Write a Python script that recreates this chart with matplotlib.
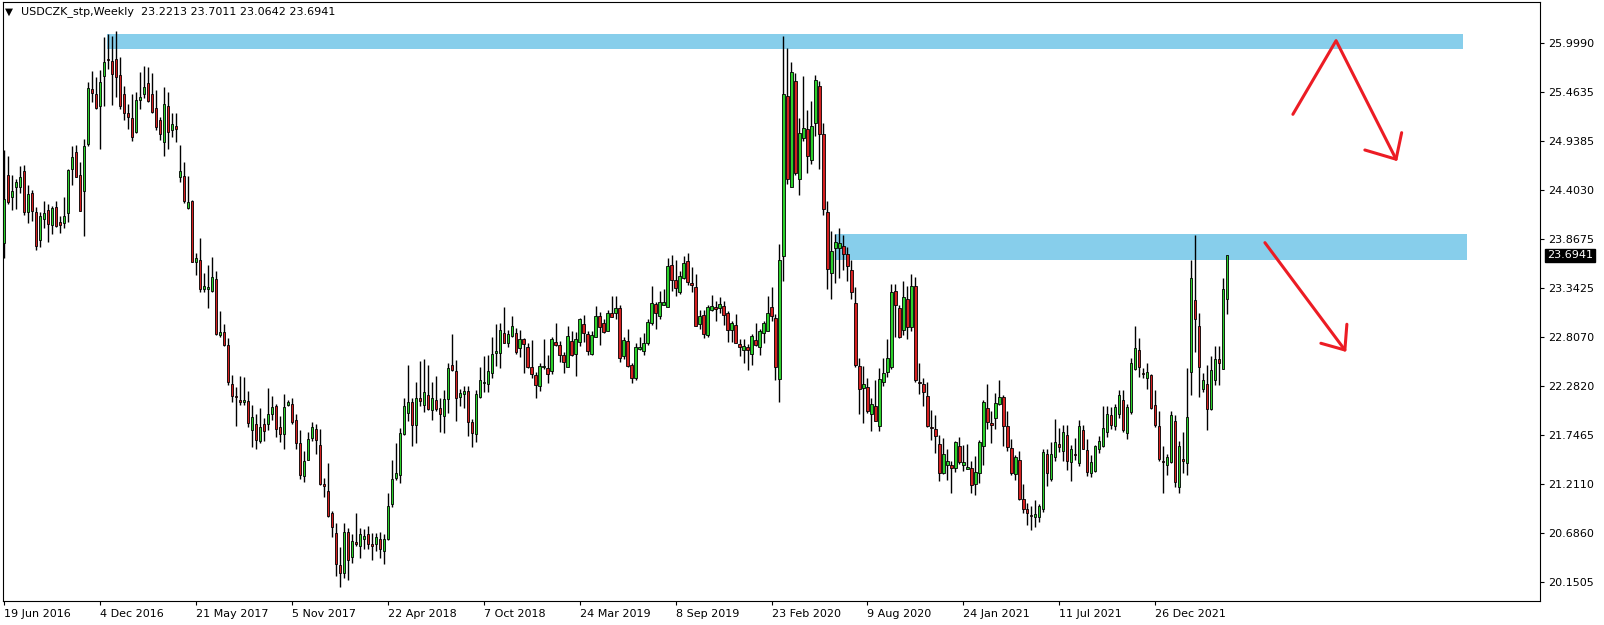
import numpy as np
import matplotlib
matplotlib.use("Agg")
import matplotlib.pyplot as plt
import matplotlib.transforms as mtransforms

# weekly candles, 19 Jun 2016 .. 1 May 2022
opens = [
	23.83, 24.57, 24.33, 24.44, 24.44, 24.61, 24.17, 24.37, 24.17, 23.86,
	24.09, 24.19, 24.03, 24.22, 24.06, 24.05, 24.16, 24.63, 24.82, 24.57,
	24.39, 24.90, 25.50, 25.45, 25.31, 25.64, 25.83, 25.80, 25.83, 25.65,
	25.45, 25.24, 25.18, 25.03, 25.38, 25.45, 25.56, 25.45, 25.29, 25.16,
	24.92, 25.32, 25.06, 25.10, 24.54, 24.56, 24.21, 24.28, 23.62, 23.65,
	23.33, 23.33, 23.31, 23.44, 22.83, 22.86, 22.72, 22.30, 22.17, 22.13,
	22.11, 22.12, 21.80, 21.87, 21.68, 21.87, 21.87, 21.98, 22.06, 21.83,
	21.76, 22.07, 22.08, 21.91, 21.66, 21.30, 21.48, 21.72, 21.81, 21.64,
	21.22, 21.14, 20.90, 20.68, 20.34, 20.25, 20.70, 20.42, 20.59, 20.54,
	20.62, 20.67, 20.57, 20.57, 20.62, 20.49, 20.62, 21.00, 21.28, 21.31,
	21.76, 21.99, 22.10, 21.86, 22.15, 22.07, 22.18, 22.02, 22.13, 22.04,
	21.95, 22.14, 22.51, 22.44, 22.16, 22.19, 22.22, 21.89, 21.76, 22.16,
	22.31, 22.30, 22.42, 22.64, 22.64, 22.85, 22.74, 22.82, 22.85, 22.69,
	22.79, 22.70, 22.48, 22.40, 22.28, 22.48, 22.47, 22.44, 22.76, 22.72,
	22.61, 22.49, 22.77, 22.63, 22.76, 22.95, 22.84, 22.63, 22.81, 23.04,
	22.96, 22.87, 23.07, 23.07, 23.12, 22.60, 22.77, 22.51, 22.37, 22.68,
	22.66, 22.74, 22.96, 23.17, 23.04, 23.16, 23.14, 23.59, 23.43, 23.30,
	23.45, 23.63, 23.40, 23.35, 22.95, 23.05, 22.83, 23.10, 23.13, 23.12,
	23.15, 23.07, 22.89, 22.94, 22.73, 22.67, 22.70, 22.63, 22.78, 22.70,
	22.85, 22.88, 23.14, 23.02, 22.35, 23.69, 25.42, 24.44, 25.59, 24.52,
	24.97, 25.07, 24.73, 25.13, 25.53, 25.01, 24.17, 23.50, 23.77, 23.77,
	23.80, 23.71, 23.54, 23.18, 22.50, 22.26, 22.27, 21.97, 22.06, 21.84,
	22.32, 22.43, 22.48, 23.31, 23.12, 22.89, 23.22, 22.92, 23.36, 22.32,
	22.30, 22.17, 21.83, 21.81, 21.65, 21.34, 21.42, 21.42, 21.39, 21.63,
	21.42, 21.38, 21.39, 21.22, 21.34, 21.63, 22.04, 21.88, 21.93, 22.08,
	22.16, 21.84, 21.61, 21.32, 21.48, 21.05, 20.94, 20.88, 20.86, 20.86,
	20.95, 21.54, 21.27, 21.51, 21.65, 21.57, 21.75, 21.45, 21.54, 21.44,
	21.80, 21.58, 21.33, 21.36, 21.60, 21.63, 21.78, 21.96, 21.85, 21.98,
	22.13, 21.77, 22.00, 22.46, 22.67, 22.42, 22.37, 22.40, 22.07, 21.85,
	21.47, 21.42, 21.45, 21.90, 21.18, 21.49, 21.44, 22.43, 23.21, 22.93,
	22.25, 22.30, 22.03, 22.34, 22.57, 22.46, 23.2213]
highs = [
	24.84, 24.77, 24.57, 24.52, 24.66, 24.67, 24.46, 24.40, 24.22, 24.17,
	24.29, 24.25, 24.23, 24.29, 24.12, 24.33, 24.63, 24.88, 24.89, 24.71,
	24.96, 25.58, 25.70, 25.63, 25.71, 26.06, 26.10, 26.07, 26.13, 25.85,
	25.53, 25.34, 25.44, 25.47, 25.68, 25.75, 25.74, 25.67, 25.49, 25.20,
	25.52, 25.47, 25.24, 25.24, 24.89, 24.71, 24.56, 24.30, 23.72, 23.88,
	23.50, 23.59, 23.68, 23.53, 23.09, 22.95, 22.80, 22.40, 22.27, 22.39,
	22.38, 22.22, 22.07, 21.98, 22.04, 21.93, 22.26, 22.17, 22.08, 21.95,
	22.19, 22.13, 22.15, 21.97, 21.80, 21.57, 21.78, 21.89, 21.87, 21.81,
	21.28, 21.44, 20.92, 20.79, 20.53, 20.79, 20.74, 20.67, 20.90, 20.74,
	20.73, 20.76, 20.68, 20.68, 20.69, 20.67, 21.12, 21.48, 21.66, 21.82,
	22.15, 22.51, 22.15, 22.32, 22.55, 22.57, 22.51, 22.32, 22.39, 22.15,
	22.23, 22.53, 22.84, 22.56, 22.25, 22.28, 22.28, 21.92, 22.24, 22.48,
	22.60, 22.62, 22.81, 22.95, 22.96, 23.13, 22.89, 23.04, 22.91, 22.89,
	22.80, 22.75, 22.78, 22.43, 22.53, 22.79, 22.61, 22.81, 22.96, 22.77,
	22.65, 22.93, 22.87, 22.86, 23.02, 23.05, 22.87, 22.87, 23.15, 23.08,
	23.00, 23.10, 23.25, 23.25, 23.16, 22.81, 22.90, 22.53, 22.75, 22.81,
	22.85, 23.01, 23.36, 23.19, 23.31, 23.33, 23.67, 23.70, 23.64, 23.53,
	23.69, 23.72, 23.57, 23.49, 23.10, 23.10, 23.16, 23.27, 23.20, 23.24,
	23.20, 23.09, 22.98, 23.06, 22.79, 22.79, 22.73, 22.84, 22.96, 22.90,
	22.98, 23.26, 23.35, 23.06, 23.82, 26.07, 25.94, 25.79, 25.67, 25.19,
	25.64, 25.27, 25.37, 25.65, 25.59, 25.13, 24.28, 23.96, 23.93, 23.99,
	23.92, 23.79, 23.65, 23.35, 22.58, 22.50, 22.36, 22.15, 22.34, 22.47,
	22.58, 22.79, 23.39, 23.38, 23.16, 23.42, 23.36, 23.49, 23.46, 22.53,
	22.36, 22.32, 22.02, 21.96, 21.75, 21.71, 21.59, 21.47, 21.68, 21.73,
	21.64, 21.65, 21.46, 21.52, 21.69, 22.13, 22.30, 22.01, 22.20, 22.34,
	22.18, 22.01, 21.70, 21.53, 21.57, 21.22, 21.01, 20.98, 21.04, 21.00,
	21.59, 21.59, 21.67, 21.92, 21.82, 21.86, 21.86, 21.64, 21.72, 21.91,
	21.86, 21.70, 21.53, 21.64, 21.74, 22.06, 22.06, 22.05, 22.08, 22.24,
	22.23, 22.08, 22.58, 22.93, 22.80, 22.47, 22.53, 22.41, 22.23, 22.01,
	21.63, 21.54, 22.01, 21.96, 21.68, 21.78, 22.47, 23.65, 23.92, 23.07,
	22.42, 22.51, 22.60, 22.71, 22.71, 23.45, 23.7011]
lows = [
	23.67, 24.25, 24.19, 24.20, 24.37, 24.13, 24.05, 24.07, 23.75, 23.79,
	23.99, 23.84, 23.93, 24.00, 23.94, 23.99, 24.06, 24.46, 24.54, 24.18,
	23.91, 24.88, 25.36, 25.28, 24.85, 25.31, 25.72, 25.33, 25.41, 25.28,
	25.16, 25.07, 24.94, 25.02, 25.28, 25.40, 25.36, 25.24, 25.05, 24.95,
	24.77, 24.85, 24.98, 24.92, 24.49, 24.26, 24.20, 23.62, 23.48, 23.30,
	23.30, 23.12, 23.30, 22.83, 22.81, 22.71, 22.29, 22.10, 21.85, 22.07,
	22.07, 21.83, 21.62, 21.59, 21.66, 21.68, 21.80, 21.91, 21.73, 21.67,
	21.60, 22.06, 21.87, 21.60, 21.27, 21.24, 21.48, 21.68, 21.54, 21.21,
	21.08, 20.86, 20.64, 20.22, 20.10, 20.20, 20.18, 20.36, 20.54, 20.41,
	20.51, 20.51, 20.39, 20.49, 20.41, 20.35, 20.61, 20.97, 21.26, 21.23,
	21.75, 21.90, 21.63, 21.66, 22.06, 22.00, 22.02, 21.91, 22.01, 21.78,
	21.77, 21.99, 22.44, 21.90, 22.06, 22.04, 21.74, 21.62, 21.67, 22.15,
	22.21, 22.21, 22.37, 22.50, 22.47, 22.74, 22.70, 22.81, 22.63, 22.59,
	22.42, 22.47, 22.37, 22.15, 22.22, 22.46, 22.31, 22.41, 22.71, 22.54,
	22.42, 22.48, 22.60, 22.39, 22.71, 22.76, 22.62, 22.62, 22.81, 22.72,
	22.85, 22.87, 23.03, 23.01, 22.54, 22.57, 22.49, 22.31, 22.34, 22.67,
	22.62, 22.72, 22.94, 22.90, 23.00, 23.16, 23.13, 23.31, 23.26, 23.28,
	23.44, 23.37, 23.30, 22.93, 22.90, 22.80, 22.81, 23.09, 22.98, 23.07,
	22.94, 22.76, 22.76, 22.75, 22.60, 22.53, 22.45, 22.51, 22.71, 22.61,
	22.75, 22.87, 22.98, 22.34, 22.10, 23.42, 24.47, 24.44, 24.57, 24.35,
	24.94, 24.59, 24.69, 24.99, 24.63, 24.13, 23.33, 23.22, 23.40, 23.45,
	23.54, 23.42, 23.22, 22.49, 21.98, 21.88, 21.99, 21.79, 21.90, 21.79,
	22.28, 22.38, 22.46, 22.81, 22.80, 22.83, 22.79, 22.87, 22.32, 22.19,
	22.06, 21.83, 21.69, 21.55, 21.25, 21.32, 21.26, 21.12, 21.35, 21.43,
	21.36, 21.38, 21.12, 21.10, 21.23, 21.42, 21.81, 21.66, 21.81, 22.07,
	21.63, 21.57, 21.31, 21.26, 21.04, 20.90, 20.77, 20.72, 20.75, 20.80,
	20.91, 21.19, 21.25, 21.47, 21.56, 21.47, 21.37, 21.25, 21.48, 21.41,
	21.59, 21.30, 21.29, 21.35, 21.55, 21.62, 21.73, 21.81, 21.80, 21.93,
	21.78, 21.70, 21.98, 22.45, 22.38, 22.36, 22.25, 22.03, 21.83, 21.46,
	21.12, 21.31, 21.44, 21.18, 21.12, 21.33, 21.31, 22.18, 22.65, 22.16,
	22.21, 21.80, 22.02, 22.29, 22.29, 22.46, 23.0642]
closes = [
	24.31, 24.27, 24.39, 24.49, 24.55, 24.17, 24.36, 24.18, 23.80, 24.12,
	24.16, 24.04, 24.21, 24.01, 24.02, 24.12, 24.62, 24.76, 24.54, 24.18,
	24.88, 25.51, 25.46, 25.29, 25.57, 25.79, 25.82, 25.66, 25.63, 25.32,
	25.24, 25.20, 24.98, 25.38, 25.41, 25.52, 25.37, 25.25, 25.09, 25.01,
	25.34, 25.03, 25.12, 25.07, 24.61, 24.28, 24.27, 23.62, 23.67, 23.33,
	23.36, 23.35, 23.46, 22.84, 22.86, 22.72, 22.32, 22.17, 22.16, 22.11,
	22.13, 21.88, 21.94, 21.69, 21.83, 21.79, 21.98, 22.05, 21.81, 21.76,
	22.05, 22.10, 21.89, 21.66, 21.31, 21.47, 21.70, 21.83, 21.69, 21.22,
	21.19, 20.87, 20.75, 20.35, 20.25, 20.70, 20.39, 20.60, 20.57, 20.67,
	20.65, 20.56, 20.54, 20.64, 20.51, 20.62, 20.98, 21.27, 21.33, 21.77,
	22.06, 22.11, 21.86, 22.15, 22.12, 22.21, 22.03, 22.15, 22.03, 21.98,
	22.14, 22.47, 22.45, 22.15, 22.20, 22.22, 21.89, 21.77, 22.19, 22.34,
	22.32, 22.44, 22.63, 22.66, 22.89, 22.75, 22.84, 22.93, 22.65, 22.79,
	22.73, 22.48, 22.41, 22.29, 22.50, 22.50, 22.41, 22.79, 22.72, 22.62,
	22.54, 22.82, 22.61, 22.79, 23.01, 22.85, 22.66, 22.83, 23.04, 22.92,
	22.86, 23.07, 23.03, 23.12, 22.58, 22.78, 22.50, 22.36, 22.70, 22.70,
	22.74, 22.97, 23.18, 23.07, 23.19, 23.19, 23.58, 23.43, 23.34, 23.47,
	23.61, 23.41, 23.37, 22.93, 23.04, 22.84, 23.13, 23.15, 23.11, 23.17,
	23.05, 22.89, 22.96, 22.75, 22.70, 22.71, 22.67, 22.82, 22.72, 22.88,
	22.96, 23.07, 23.04, 22.49, 23.65, 25.44, 24.52, 25.68, 24.59, 25.02,
	25.08, 24.77, 25.10, 25.60, 25.01, 24.20, 23.55, 23.74, 23.84, 23.83,
	23.71, 23.58, 23.30, 22.51, 22.25, 22.30, 22.01, 22.08, 21.90, 22.35,
	22.42, 22.58, 23.30, 23.16, 22.81, 23.24, 22.92, 23.36, 22.34, 22.31,
	22.21, 21.84, 21.82, 21.74, 21.33, 21.54, 21.47, 21.39, 21.67, 21.45,
	21.45, 21.40, 21.21, 21.35, 21.67, 22.10, 21.89, 21.86, 22.09, 22.16,
	21.85, 21.62, 21.33, 21.51, 21.05, 20.94, 20.90, 20.87, 20.89, 20.98,
	21.56, 21.34, 21.54, 21.67, 21.62, 21.78, 21.47, 21.59, 21.53, 21.85,
	21.59, 21.35, 21.45, 21.63, 21.68, 21.82, 21.97, 21.86, 22.05, 22.18,
	21.80, 22.05, 22.53, 22.69, 22.48, 22.41, 22.43, 22.04, 21.86, 21.49,
	21.46, 21.51, 21.96, 21.24, 21.63, 21.46, 21.94, 23.45, 23.00, 22.48,
	22.34, 22.03, 22.45, 22.57, 22.53, 23.33, 23.6941]

tick_weeks = [0, 24, 48, 72, 96, 120, 144, 168, 192, 216, 240, 264, 288]
tick_dates = ["19 Jun 2016", "4 Dec 2016", "21 May 2017", "5 Nov 2017", "22 Apr 2018",
	"7 Oct 2018", "24 Mar 2019", "8 Sep 2019", "23 Feb 2020", "9 Aug 2020",
	"24 Jan 2021", "11 Jul 2021", "26 Dec 2021"]
price_ticks = [25.9990, 25.4635, 24.9385, 24.4030, 23.8675, 23.3425, 22.8070,
	22.2820, 21.7465, 21.2110, 20.6860, 20.1505]

# resistance zones: (first week, last week, low, high)
zone_top = (25.85, 364.9, 25.937, 26.096)
zone_mid = (207.9, 365.9, 23.645, 23.928)

# hand drawn arrows (week, price)
arrow1_x = [322.4, 333.2, 348.2]
arrow1_y = [25.225, 26.024, 24.738]
arrow1_head_x = [340.4, 348.2, 349.6]
arrow1_head_y = [24.838, 24.738, 25.026]
arrow2_x = [315.4, 335.4]
arrow2_y = [23.833, 22.669]
arrow2_head_x = [329.4, 335.4, 335.9]
arrow2_head_y = [22.742, 22.669, 22.948]

o = np.array(opens)
h = np.array(highs)
l = np.array(lows)
c = np.array(closes)
x = np.arange(len(c))

fig = plt.figure(figsize=(16.04, 6.25), dpi=100)
ax = fig.add_axes([3/1604, 1 - 601/625, (1540 - 3)/1604, 599/625])

for z in (zone_top, zone_mid):
	ax.fill_between([z[0], z[1]], z[2], z[3], color="#87ceeb", lw=0, zorder=1)

up = c >= o
body = c - o
body = np.where(np.abs(body) < 0.012, np.where(up, 0.012, -0.012), body)
colors = np.where(up, "#2bd12b", "#d42020")

ax.vlines(x, l, h, color="black", lw=1.0, zorder=2)
ax.bar(x, body, bottom=o, width=0.55, color=colors, edgecolor="black", linewidth=0.6, zorder=3)

red = "#ec1c24"
ax.plot(arrow1_x, arrow1_y, color=red, lw=2.2, zorder=4, solid_capstyle="round")
ax.plot(arrow1_head_x, arrow1_head_y, color=red, lw=2.2, zorder=4, solid_capstyle="round")
ax.plot(arrow2_x, arrow2_y, color=red, lw=2.2, zorder=4, solid_capstyle="round")
ax.plot(arrow2_head_x, arrow2_head_y, color=red, lw=2.2, zorder=4, solid_capstyle="round")

ax.set_xlim(-0.2, 384.2)
ax.set_ylim(19.947, 26.443)

ax.yaxis.tick_right()
ax.set_yticks(price_ticks)
ax.set_yticklabels(["%.4f" % p for p in price_ticks])
ax.tick_params(axis="y", direction="out", length=3, width=0.8, pad=3, labelsize=8)
ax.set_xticks(tick_weeks)
ax.set_xticklabels(tick_dates, ha="left")
ax.tick_params(axis="x", direction="out", length=3, width=0.8, pad=3, labelsize=8)
for s in ax.spines.values():
	s.set_linewidth(0.8)

# last price marker
trans = mtransforms.blended_transform_factory(ax.transAxes, ax.transData)
ax.text(1.0045, closes[-1], "%.4f" % closes[-1], transform=trans, ha="left", va="center",
	fontsize=8, color="white", bbox=dict(facecolor="black", edgecolor="black", pad=1.2))

fig.text(5/1604, 1 - 12/625, "\u25bc", fontsize=7.5, va="center", ha="left")
fig.text(21/1604, 1 - 12/625, "USDCZK_stp,Weekly  %.4f %.4f %.4f %.4f" % (opens[-1], highs[-1], lows[-1], closes[-1]),
	fontsize=8, va="center", ha="left")

fig.savefig("out.png", dpi=100)
